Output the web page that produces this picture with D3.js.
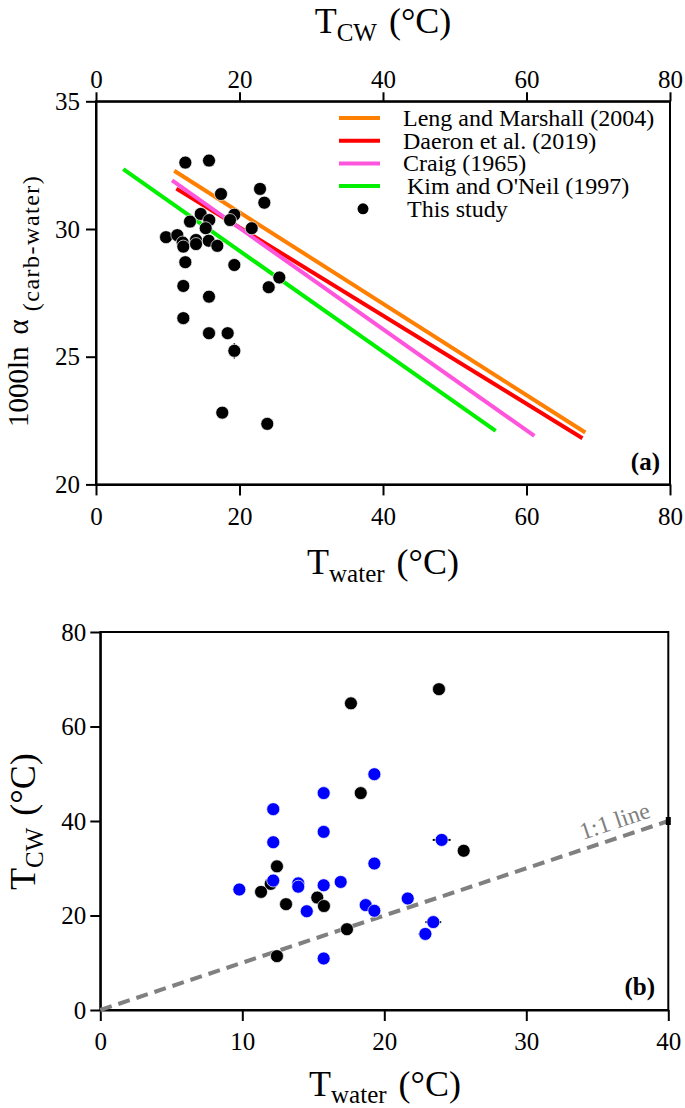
<!DOCTYPE html>
<html>
<head>
<meta charset="utf-8">
<script src="https://cdn.jsdelivr.net/npm/d3@7"></script>
<style>
  body { margin: 0; background: #fff; }
  svg { display: block; font-family: "Liberation Serif", "Times New Roman", serif; }
  .axis path, .axis line { stroke: #000; stroke-width: 2; }
  .axis text { font-size: 25px; fill: #000; font-family: "Liberation Serif", "Times New Roman", serif; }
  .frame { fill: none; stroke: #000; stroke-width: 2; }
</style>
</head>
<body>
<script>
  // panel (a): 1000ln alpha vs T_water
  var waterA = [12.45, 15.75, 17.42, 22.86, 23.46, 14.59, 13.10, 15.79, 19.28, 18.68, 15.29,
    21.70, 9.76, 11.33, 12.08, 12.17, 13.94, 13.94, 15.71, 16.91, 12.45, 19.28, 25.55, 12.17,
    24.07, 15.75, 12.17, 15.75, 18.35, 19.28, 17.60, 23.87];
  var lnAlpha = [32.60, 32.68, 31.37, 31.57, 31.03, 30.59, 30.29, 30.35, 30.56, 30.35, 30.03,
    30.03, 29.68, 29.76, 29.47, 29.31, 29.57, 29.41, 29.54, 29.34, 28.70, 28.59, 28.10, 27.77,
    27.72, 27.35, 26.51, 25.92, 25.92, 25.23, 22.81, 22.37];
  var lnAlphaErr = [0, 0, 0, 0, 0, 0, 0, 0, 0, 0, 0, 0, 0, 0, 0, 0, 0, 0, 0, 0, 0, 0, 0, 0,
    0, 0, 0, 0, 0, 0.3, 0, 0];

  // calibration lines, end points [T, 1000ln alpha]
  var calibNames = ["Leng and Marshall (2004)", "Daeron et al. (2019)", "Craig (1965)", "Kim and O'Neil (1997)"];
  var calibColors = ["#ff7f00", "#ff0000", "#ff55dd", "#00f000"];
  var calibT = [[10.9, 68.2], [11.2, 67.8], [10.6, 61.1], [3.8, 55.7]];
  var calibLn = [[32.28, 22.03], [31.58, 21.81], [31.90, 21.90], [32.34, 22.10]];

  // panel (b): T_CW vs T_water
  var blackW = [17.65, 23.85, 18.34, 25.59, 12.44, 12.00, 11.32, 13.08, 15.28, 15.75, 17.37, 12.44];
  var blackTcw = [64.9, 67.9, 45.9, 33.7, 30.4, 26.7, 25.0, 22.4, 23.8, 22.0, 17.1, 11.4];
  var blueW = [19.30, 15.73, 12.18, 15.73, 12.18, 24.04, 19.30, 9.79, 12.18, 13.94, 13.94,
    15.73, 16.93, 14.54, 18.69, 19.30, 21.65, 23.45, 22.89, 15.73];
  var blueTcw = [49.9, 45.9, 42.5, 37.7, 35.5, 36.0, 31.0, 25.5, 27.4, 26.8, 26.1, 26.4, 27.1,
    20.9, 22.2, 21.0, 23.6, 18.6, 16.1, 10.9];
  var blueWErr = [0, 0, 0, 0, 0, 0.63, 0, 0, 0, 0, 0, 0, 0, 0, 0, 0, 0, 0.56, 0.47, 0];

  var ticksA = [0, 20, 40, 60, 80], ticksLn = [20, 25, 30, 35];
  var ticksBx = [0, 10, 20, 30, 40], ticksBy = [0, 20, 40, 60, 80];

  var svg = d3.select("body").append("svg")
    .attr("width", 685)
    .attr("height", 1108);

  var xA = d3.scaleLinear().domain([0, 80]).range([96, 670]),
    yA = d3.scaleLinear().domain([20, 35]).range([484.4, 101.3]),
    xB = d3.scaleLinear().domain([0, 40]).range([100.3, 668.3]),
    yB = d3.scaleLinear().domain([0, 80]).range([1010, 632]);

  function frame(x, y) {
    svg.append("rect").attr("class", "frame")
      .attr("x", x.range()[0]).attr("y", y.range()[1])
      .attr("width", x.range()[1] - x.range()[0])
      .attr("height", y.range()[0] - y.range()[1]);
  }

  // T_sub (°C) style axis title
  function title(x, y, rot, sub, dy) {
    var t = svg.append("text").attr("font-size", 36)
      .attr("transform", "translate(" + x + "," + y + ")" + (rot ? " rotate(-90)" : ""))
      .attr("text-anchor", rot ? "start" : "middle");
    t.append("tspan").text("T");
    t.append("tspan").attr("font-size", 25).attr("dy", dy).text(sub);
    t.append("tspan").attr("dy", -dy).attr("dx", 12).text("(°C)");
  }

  // ---- panel (a) ----
  svg.append("g").attr("class", "axis")
    .attr("transform", "translate(0," + yA.range()[0] + ")")
    .call(d3.axisBottom(xA).tickValues(ticksA).tickSize(11).tickPadding(12).tickSizeOuter(0));
  svg.append("g").attr("class", "axis")
    .attr("transform", "translate(0," + yA.range()[1] + ")")
    .call(d3.axisTop(xA).tickValues(ticksA).tickSize(9).tickPadding(4).tickSizeOuter(0));
  svg.append("g").attr("class", "axis")
    .attr("transform", "translate(" + xA.range()[0] + ",0)")
    .call(d3.axisLeft(yA).tickValues(ticksLn).tickSize(10).tickPadding(6).tickSizeOuter(0));
  frame(xA, yA);

  calibNames.forEach(function (name, i) {
    svg.append("line")
      .attr("x1", xA(calibT[i][0])).attr("y1", yA(calibLn[i][0]))
      .attr("x2", xA(calibT[i][1])).attr("y2", yA(calibLn[i][1]))
      .attr("stroke", calibColors[i]).attr("stroke-width", 4);
  });

  var ptsA = d3.range(waterA.length);
  svg.selectAll(".errA").data(ptsA.filter(function (i) { return lnAlphaErr[i] > 0; }))
    .enter().append("line")
    .attr("x1", function (i) { return xA(waterA[i]); })
    .attr("x2", function (i) { return xA(waterA[i]); })
    .attr("y1", function (i) { return yA(lnAlpha[i] - lnAlphaErr[i]); })
    .attr("y2", function (i) { return yA(lnAlpha[i] + lnAlphaErr[i]); })
    .attr("stroke", "#000").attr("stroke-width", 1.5);
  svg.selectAll(".ptA").data(ptsA).enter().append("circle")
    .attr("cx", function (i) { return xA(waterA[i]); })
    .attr("cy", function (i) { return yA(lnAlpha[i]); })
    .attr("r", 6.5)
    .attr("fill", "#000").attr("stroke", "#fff").attr("stroke-width", 0.7);

  // legend
  var legend = svg.append("g").attr("transform", "translate(339,118)");
  calibNames.concat(["This study"]).forEach(function (name, i) {
    var g = legend.append("g").attr("transform", "translate(0," + (i * 22.7) + ")");
    if (i < calibNames.length) {
      g.append("line").attr("x1", 0).attr("x2", 41)
        .attr("stroke", calibColors[i]).attr("stroke-width", 4);
    } else {
      g.append("circle").attr("cx", 24).attr("r", 5.5).attr("fill", "#000");
    }
    g.append("text").attr("x", i < 3 ? 64 : 68).attr("y", 8)
      .attr("font-size", 24).text(name);
  });

  svg.append("text").attr("x", 660).attr("y", 470)
    .attr("text-anchor", "end").attr("font-size", 25).attr("font-weight", "bold").text("(a)");

  title(383, 33, false, "CW", 8);
  title(383, 574, false, "water", 8);

  var t3 = svg.append("text").attr("transform", "translate(28,427) rotate(-90)").attr("font-size", 29);
  t3.append("tspan").text("1000ln");
  t3.append("tspan").attr("dx", 12).text("α");
  t3.append("tspan").attr("font-size", 24).attr("dx", 8).attr("dy", 11)
    .attr("letter-spacing", 1.5).text("(carb-water)");

  // ---- panel (b) ----
  svg.append("g").attr("class", "axis")
    .attr("transform", "translate(0," + yB.range()[0] + ")")
    .call(d3.axisBottom(xB).tickValues(ticksBx).tickSize(11).tickPadding(11).tickSizeOuter(0));
  svg.append("g").attr("class", "axis")
    .attr("transform", "translate(" + xB.range()[0] + ",0)")
    .call(d3.axisLeft(yB).tickValues(ticksBy).tickSize(10).tickPadding(4).tickSizeOuter(0));
  frame(xB, yB);

  svg.append("line")
    .attr("x1", xB(0)).attr("y1", yB(0)).attr("x2", xB(40)).attr("y2", yB(40))
    .attr("stroke", "#808080").attr("stroke-width", 4).attr("stroke-dasharray", "12,7");
  svg.append("rect").attr("x", xB(40) - 2.5).attr("y", yB(40) - 4)
    .attr("width", 5).attr("height", 8).attr("fill", "#000");

  var ang = Math.atan2(yB(0) - yB(40), xB(40) - xB(0)) * 180 / Math.PI;
  svg.append("text")
    .attr("transform", "translate(" + xB(36.6) + "," + yB(36.6) + ") rotate(" + (-ang) + ")")
    .attr("y", -9).attr("text-anchor", "middle").attr("font-size", 24).attr("fill", "#808080")
    .text("1:1 line");

  var ptsBlue = d3.range(blueW.length);
  svg.selectAll(".errB").data(ptsBlue.filter(function (i) { return blueWErr[i] > 0; }))
    .enter().append("line")
    .attr("x1", function (i) { return xB(blueW[i] - blueWErr[i]); })
    .attr("x2", function (i) { return xB(blueW[i] + blueWErr[i]); })
    .attr("y1", function (i) { return yB(blueTcw[i]); })
    .attr("y2", function (i) { return yB(blueTcw[i]); })
    .attr("stroke", "#000").attr("stroke-width", 2);
  svg.selectAll(".ptBlack").data(d3.range(blackW.length)).enter().append("circle")
    .attr("cx", function (i) { return xB(blackW[i]); })
    .attr("cy", function (i) { return yB(blackTcw[i]); })
    .attr("r", 6.5).attr("fill", "#000").attr("stroke", "#fff").attr("stroke-width", 0.7);
  svg.selectAll(".ptBlue").data(ptsBlue).enter().append("circle")
    .attr("cx", function (i) { return xB(blueW[i]); })
    .attr("cy", function (i) { return yB(blueTcw[i]); })
    .attr("r", 6.5).attr("fill", "#0000ff").attr("stroke", "#fff").attr("stroke-width", 0.7);

  svg.append("text").attr("x", 655).attr("y", 995)
    .attr("text-anchor", "end").attr("font-size", 25).attr("font-weight", "bold").text("(b)");

  title(385, 1096, false, "water", 7);
  title(35, 890, true, "CW", 8);
</script>
</body>
</html>
